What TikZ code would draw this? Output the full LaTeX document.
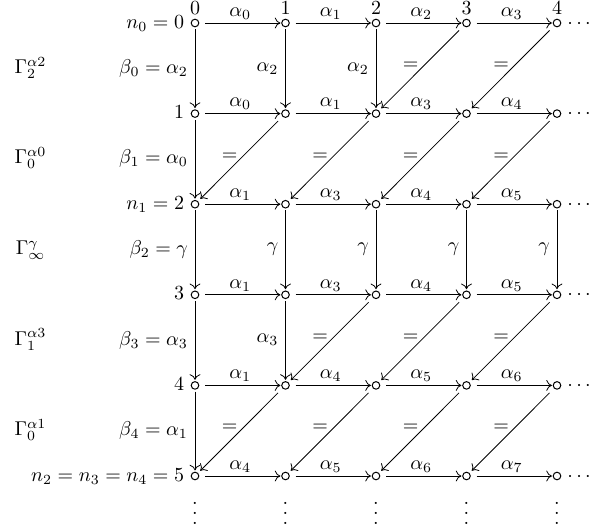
\documentclass[tikz,border=0pt]{standalone}
\usetikzlibrary{arrows.meta}
\newcommand{\myvdots}{\vbox{\baselineskip=5pt\lineskiplimit=0pt\hbox{.}\hbox{.}\hbox{.}}}
\begin{document}
\begin{tikzpicture}[x=0.5pt,y=-0.5pt,
  tip/.style={-{To[length=2.8pt,width=5.4pt]}},
  pt/.style={circle,draw,inner sep=0pt,minimum size=3.8pt,line width=0.5pt},
  harr/.style={tip,shorten <=2.85pt,shorten >=0.4pt},
  varr/.style={tip,shorten <=0.95pt,shorten >=0.65pt},
  darr/.style={tip,shorten <=3.1pt,shorten >=1.6pt},
  hlab/.style={above,inner sep=1.7pt},
  vlab/.style={left},
  eqlab/.style={xshift=-5.25pt,yshift=1.2pt,inner sep=0pt},
  rowlab/.style={anchor=base east,inner sep=0pt},
  toplab/.style={anchor=base,inner sep=0pt},
  dotsr/.style={anchor=base west,inner sep=0pt},
  gamlab/.style={anchor=base,inner sep=0pt}]
\useasboundingbox (0,0) rectangle (590,531);
% grid of points
\foreach \r/\yy in {0/23,1/113.6,2/204.2,3/294.8,4/385.4,5/476}{
  \foreach \c/\xx in {0/195,1/285.5,2/376,3/466.5,4/557}{
    \node[pt] (n\r\c) at (\xx,\yy) {};
  }
  \node[dotsr] (d\r) at ([xshift=5pt,yshift=-2.5pt]n\r4.center) {$\cdots$};
}
% top numbers
\foreach \c in {0,...,4}{
  \node[toplab] (t\c) at ([yshift=4.5pt]n0\c.center) {$\c$};
}
% row labels
\node[rowlab] (l0) at ([xshift=-5.25pt,yshift=-2.5pt]n00.center) {$n_0=0$};
\node[rowlab] (l1) at ([xshift=-5.25pt,yshift=-2.5pt]n10.center) {$1$};
\node[rowlab] (l2) at ([xshift=-5.25pt,yshift=-2.5pt]n20.center) {$n_1=2$};
\node[rowlab] (l3) at ([xshift=-5.25pt,yshift=-2.5pt]n30.center) {$3$};
\node[rowlab] (l4) at ([xshift=-5.25pt,yshift=-2.5pt]n40.center) {$4$};
\node[rowlab] (l5) at ([xshift=-5.25pt,yshift=-2.5pt]n50.center) {$n_2=n_3=n_4=5$};
% Gamma labels
\node[gamlab] (g0) at (30.5,73.3) {$\Gamma_2^{\alpha2}$};
\node[gamlab] (g1) at (30.5,163.9) {$\Gamma_0^{\alpha0}$};
\node[gamlab] (g2) at (30.5,254.5) {$\Gamma_\infty^{\gamma}$};
\node[gamlab] (g3) at (30.5,345.1) {$\Gamma_1^{\alpha3}$};
\node[gamlab] (g4) at (30.5,435.7) {$\Gamma_0^{\alpha1}$};
% horizontal arrows
\foreach \r/\la/\lb/\lc/\ld in {0/0/1/2/3,1/0/1/3/4,2/1/3/4/5,3/1/3/4/5,4/1/4/5/6,5/4/5/6/7}{
  \draw[harr] (n\r0) -- node[hlab]{$\alpha_{\la}$} (n\r1);
  \draw[harr] (n\r1) -- node[hlab]{$\alpha_{\lb}$} (n\r2);
  \draw[harr] (n\r2) -- node[hlab]{$\alpha_{\lc}$} (n\r3);
  \draw[harr] (n\r3) -- node[hlab]{$\alpha_{\ld}$} (n\r4);
}
% vertical arrows
\draw[varr] (n00) -- node[vlab]{$\beta_0=\alpha_2$} (n10);
\draw[varr] (n01) -- node[vlab]{$\alpha_2$} (n11);
\draw[varr] (n02) -- node[vlab]{$\alpha_2$} (n12);
\draw[varr] (n10) -- node[vlab]{$\beta_1=\alpha_0$} (n20);
\draw[varr] (n20) -- node[vlab]{$\beta_2=\gamma$} (n30);
\foreach \c in {1,...,4}{
  \draw[varr] (n2\c) -- node[vlab]{$\gamma$} (n3\c);
}
\draw[varr] (n30) -- node[vlab]{$\beta_3=\alpha_3$} (n40);
\draw[varr] (n31) -- node[vlab]{$\alpha_3$} (n41);
\draw[varr] (n40) -- node[vlab]{$\beta_4=\alpha_1$} (n50);
% diagonal arrows
\foreach \s/\e in {03/12,04/13,11/20,12/21,13/22,14/23,32/41,33/42,34/43,41/50,42/51,43/52,44/53}{
  \draw[darr] (n\s) -- node[eqlab]{$=$} (n\e);
}
% vertical dots
\foreach \c in {0,...,4}{
  \node[anchor=base,inner sep=0pt] (v\c) at ([yshift=-24.15pt]n5\c.center) {\myvdots};
}
\end{tikzpicture}
\end{document}
